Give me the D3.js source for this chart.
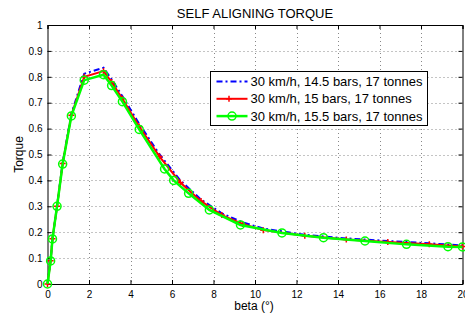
<!DOCTYPE html>
<html>
<head>
<meta charset="utf-8">
<script src="https://cdn.jsdelivr.net/npm/d3@7"></script>
<style>
  body { margin: 0; background: #fff; }
  text { font-family: "Liberation Sans", Arial, Helvetica, sans-serif; fill: #000; }
</style>
</head>
<body>
<svg width="465" height="318"></svg>
<script>
// series data
const seriesNames = ["30 km/h, 14.5 bars, 17 tonnes", "30 km/h, 15 bars, 17 tonnes", "30 km/h, 15.5 bars, 17 tonnes"];
const denseX = [0, 0.15, 0.24, 0.46, 0.73, 1.15, 1.77, 2.7, 3.09, 3.61, 4.42, 5.4, 6.4, 7.4, 8.4, 9.4, 10.4, 12.4, 14.4, 16.4, 18.4, 20];
const blueY = [0, 0.09, 0.176, 0.302, 0.468, 0.657, 0.812, 0.835, 0.79, 0.725, 0.618, 0.5, 0.4, 0.326, 0.273, 0.238, 0.214, 0.19, 0.176, 0.166, 0.157, 0.149];
const redY = [0, 0.09, 0.175, 0.3, 0.465, 0.652, 0.8, 0.822, 0.78, 0.715, 0.608, 0.492, 0.392, 0.32, 0.266, 0.232, 0.208, 0.186, 0.172, 0.162, 0.153, 0.145];
const greenX = [0, 0.15, 0.24, 0.46, 0.73, 1.15, 1.77, 2.7, 3.09, 3.61, 4.42, 5.64, 6.08, 6.8, 7.8, 9.3, 11.3, 13.3, 15.3, 17.3, 19.3, 20];
const greenY = [0, 0.089, 0.174, 0.3, 0.463, 0.649, 0.787, 0.808, 0.766, 0.704, 0.597, 0.444, 0.4, 0.35, 0.286, 0.228, 0.197, 0.179, 0.166, 0.153, 0.144, 0.143];
const xTicks = [0, 2, 4, 6, 8, 10, 12, 14, 16, 18, 20];
const yTicks = [0, 0.1, 0.2, 0.3, 0.4, 0.5, 0.6, 0.7, 0.8, 0.9, 1];

const margin = { left: 47.5, right: 2.5, top: 25, bottom: 34 };
const W = 465, H = 318;
const svg = d3.select("svg");

const x = d3.scaleLinear().domain([0, 20]).range([margin.left, W - margin.right]);
const y = d3.scaleLinear().domain([0, 1]).range([H - margin.bottom, margin.top]);

// grid
const grid = svg.append("g").attr("stroke", "#888").attr("stroke-width", 1).attr("stroke-dasharray", "1,3");
grid.selectAll(".gx").data(xTicks.slice(1, -1)).enter().append("line")
  .attr("x1", d => Math.round(x(d)) + 0.5).attr("x2", d => Math.round(x(d)) + 0.5)
  .attr("y1", y(1)).attr("y2", y(0));
grid.selectAll(".gy").data(yTicks.slice(1, -1)).enter().append("line")
  .attr("y1", d => Math.round(y(d)) + 0.5).attr("y2", d => Math.round(y(d)) + 0.5)
  .attr("x1", x(0)).attr("x2", x(20));

// axes, ticks pointing inward like matlab
const fmt = d => d3.format("")(+d.toFixed(1));
svg.append("g").attr("transform", `translate(0,${y(0)})`)
  .call(d3.axisBottom(x).tickValues(xTicks).tickSize(-4).tickPadding(7).tickFormat(fmt));
svg.append("g").attr("transform", `translate(${x(0)},0)`)
  .call(d3.axisLeft(y).tickValues(yTicks).tickSize(-4).tickPadding(5).tickFormat(fmt));
svg.append("g").attr("transform", `translate(0,${y(1)})`)
  .call(d3.axisTop(x).tickValues(xTicks).tickSize(-4).tickFormat(""));
svg.append("g").attr("transform", `translate(${x(20)},0)`)
  .call(d3.axisRight(y).tickValues(yTicks).tickSize(-4).tickFormat(""));
svg.selectAll(".domain").attr("stroke", "#000");
svg.selectAll(".tick line").attr("stroke", "#000");
svg.selectAll(".tick text").style("font-size", "10px").style("font-family", "Liberation Sans, Arial, sans-serif");

const line = d3.line().x(d => x(d[0])).y(d => y(d[1]));
const blueData = denseX.map((v, i) => [v, blueY[i]]);
const redData = denseX.map((v, i) => [v, redY[i]]);
const greenData = greenX.map((v, i) => [v, greenY[i]]);

const plot = svg.append("g");
plot.append("path").datum(blueData).attr("d", line)
  .attr("fill", "none").attr("stroke", "#0000ff").attr("stroke-width", 2).attr("stroke-dasharray", "6,3,2,3");
plot.append("path").datum(redData).attr("d", line)
  .attr("fill", "none").attr("stroke", "#ff0000").attr("stroke-width", 2);
plot.selectAll(".plus").data(redData).enter().append("path")
  .attr("d", d => `M${x(d[0]) - 3},${y(d[1])}h6M${x(d[0])},${y(d[1]) - 3}v6`)
  .attr("stroke", "#ff0000").attr("stroke-width", 1.5);
plot.append("path").datum(greenData).attr("d", line)
  .attr("fill", "none").attr("stroke", "#00ff00").attr("stroke-width", 2.5);
plot.selectAll(".circ").data(greenData).enter().append("circle")
  .attr("cx", d => x(d[0])).attr("cy", d => y(d[1])).attr("r", 4)
  .attr("fill", "none").attr("stroke", "#00ff00").attr("stroke-width", 1.5);

// title and labels
svg.append("text").attr("x", (x(0) + x(20)) / 2).attr("y", 18).attr("text-anchor", "middle")
  .style("font-size", "13px").text("SELF ALIGNING TORQUE");
svg.append("text").attr("x", (x(0) + x(20)) / 2 - 1).attr("y", 310).attr("text-anchor", "middle")
  .style("font-size", "12px").text("beta (°)");
svg.append("text").attr("transform", `translate(23,${(y(0) + y(1)) / 2}) rotate(-90)`).attr("text-anchor", "middle")
  .style("font-size", "12px").text("Torque");

// legend
const lg = svg.append("g").attr("transform", "translate(210.5,71.5)");
lg.append("rect").attr("width", 217).attr("height", 54).attr("fill", "#fff").attr("stroke", "#000");
const styles = [
  { color: "#0000ff", dash: "6,3,2,3", w: 2, marker: null },
  { color: "#ff0000", dash: null, w: 2, marker: "plus" },
  { color: "#00ff00", dash: null, w: 2.5, marker: "circle" }
];
seriesNames.forEach((name, i) => {
  const cy = 10 + i * 17.3;
  const row = lg.append("g").attr("transform", `translate(0,${cy})`);
  row.append("line").attr("x1", 6).attr("x2", 37).attr("stroke", styles[i].color)
    .attr("stroke-width", styles[i].w).attr("stroke-dasharray", styles[i].dash);
  if (styles[i].marker === "plus") {
    row.append("path").attr("d", "M18.5,-3v6M15.5,0h6").attr("stroke", styles[i].color).attr("stroke-width", 1.5);
  } else if (styles[i].marker === "circle") {
    row.append("circle").attr("cx", 21.5).attr("r", 4).attr("fill", "none").attr("stroke", styles[i].color).attr("stroke-width", 1.5);
  }
  row.append("text").attr("x", 40).attr("y", 4.5).style("font-size", "13px").text(name);
});
</script>
</body>
</html>
